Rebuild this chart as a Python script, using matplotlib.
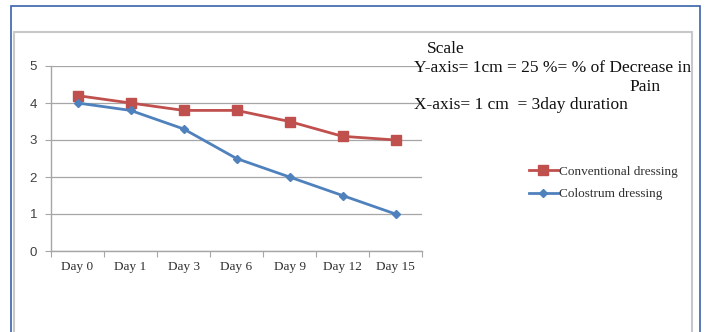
import matplotlib.pyplot as plt
from matplotlib.patches import Rectangle

days = ['Day 0', 'Day 1', 'Day 3', 'Day 6', 'Day 9', 'Day 12', 'Day 15']
conventional = [4.2, 4.0, 3.8, 3.8, 3.5, 3.1, 3.0]
colostrum = [4.0, 3.8, 3.3, 2.5, 2.0, 1.5, 1.0]

W, H = 708, 332
fig = plt.figure(figsize=(W / 100, H / 100), dpi=100)

# outer blue border and inner grey chart frame
fig.patches.append(Rectangle((11 / W, -0.05), 689 / W, 1 - 6 / H + 0.05,
                             transform=fig.transFigure, fill=False,
                             edgecolor='#3a62a8', lw=1.2))
fig.patches.append(Rectangle((13.5 / W, -0.05), 678.5 / W, 1 - 32 / H + 0.05,
                             transform=fig.transFigure, fill=False,
                             edgecolor='#c8c8c8', lw=1.5))

ax = fig.add_axes([51 / W, 1 - 251 / H, 371 / W, 185 / H])
x = range(len(days))
ax.plot(x, conventional, color='#c0504d', lw=2, marker='s', markersize=7,
        label='Conventional dressing')
ax.plot(x, colostrum, color='#4f81bd', lw=2, marker='D', markersize=4.5,
        label='Colostrum dressing')

ax.set_xlim(-0.5, len(days) - 0.5)
ax.set_ylim(0, 5)
ax.set_yticks(range(6))
ax.yaxis.grid(True, color='#a6a6a6', lw=0.9)
ax.set_axisbelow(True)

# category boundaries carry the tick marks, labels sit between them
ax.set_xticks([i - 0.5 for i in range(len(days) + 1)])
ax.set_xticklabels([])
ax.set_xticks(list(x), minor=True)
ax.set_xticklabels(days, minor=True, family='Liberation Serif', fontsize=9.5,
                   color='#303030')
ax.tick_params(axis='x', which='minor', length=0, pad=7)
ax.tick_params(axis='x', which='major', length=4, color='#a6a6a6')
ax.tick_params(axis='y', length=4, color='#a6a6a6', pad=6, labelsize=9.5,
               labelcolor='#404040')
for lbl in ax.get_yticklabels():
    lbl.set_family('Liberation Sans')

for s in ['top', 'right']:
    ax.spines[s].set_visible(False)
for s in ['left', 'bottom']:
    ax.spines[s].set_color('#a6a6a6')
    ax.spines[s].set_linewidth(1)

txt = dict(transform=fig.transFigure, family='Liberation Serif', fontsize=12.5,
           color='#111111', va='center')
fig.text(427 / W, 1 - 49 / H, 'Scale', **txt)
fig.text(414 / W, 1 - 68 / H, 'Y-axis= 1cm = 25 %= % of Decrease in', **txt)
fig.text(645 / W, 1 - 87 / H, 'Pain', ha='center', **txt)
fig.text(414 / W, 1 - 105 / H, 'X-axis= 1 cm  = 3day duration', **txt)

fig.legend(loc='center left', bbox_to_anchor=(517 / W, 1 - 183 / H),
           frameon=False, prop={'family': 'Liberation Serif', 'size': 9.5},
           handlelength=2.2, handletextpad=0.1, labelspacing=0.75,
           labelcolor='#303030')

fig.savefig('out.png', dpi=100)
